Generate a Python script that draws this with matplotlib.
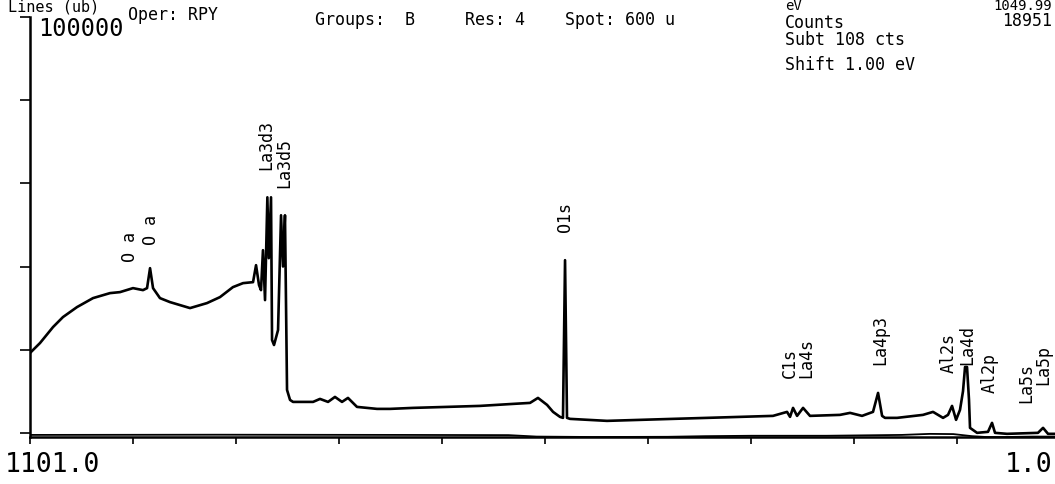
import numpy as np
import matplotlib
matplotlib.use("Agg")
import matplotlib.pyplot as plt

# XPS survey spectrum, binding energy (eV) vs counts
energia = [1101.0, 1090.3, 1076.4, 1065.8, 1050.8, 1033.7, 1015.6, 1004.9, 991.0, 980.3,
           976.0, 972.8, 969.6, 962.2, 951.5, 930.1, 912.0, 898.1, 884.3, 873.5,
           862.8, 859.6, 856.4, 854.3, 852.2, 850.0, 847.5, 846.0, 843.6, 842.5,
           840.4, 836.1, 832.9, 830.8, 828.7, 826.5, 823.3, 820.1, 798.7, 791.3,
           782.7, 775.3, 767.8, 761.4, 751.8, 730.4, 716.5, 692.0, 655.6, 620.4,
           585.2, 567.0, 558.5, 548.8, 542.4, 535.0, 531.8, 529.6, 527.5, 524.3,
           484.8, 449.5, 414.3, 378.0, 342.7, 307.5, 292.5, 289.3, 286.1, 281.8,
           275.4, 268.0, 236.0, 225.2, 212.4, 200.7, 195.3, 191.0, 187.9, 175.0,
           147.3, 136.6, 125.9, 120.6, 116.3, 112.0, 107.8, 104.6, 102.4, 100.3,
           98.2, 97.1, 89.6, 77.9, 73.6, 70.4, 57.6, 24.5, 19.1, 13.8, 1.0]
cuentas = [19200, 21600, 25440, 27840, 30240, 32400, 33600, 33840, 34800, 34320,
           34800, 39600, 34800, 32400, 31440, 30000, 31200, 32640, 35040, 36000,
           36240, 40320, 35520, 34320, 43920, 31920, 56640, 42000, 56640, 22320,
           21120, 24720, 52320, 40000, 52320, 10320, 7920, 7440, 7440, 8160,
           7440, 8640, 7440, 8400, 6240, 5760, 5760, 6000, 6240, 6480,
           6960, 7200, 8400, 6720, 5040, 3840, 3600, 41520, 3600, 3360,
           2880, 3120, 3360, 3600, 3840, 4080, 5040, 3840, 6000, 4080,
           6000, 4080, 4320, 4800, 4080, 5040, 9600, 4080, 3600, 3600,
           4320, 5040, 3600, 4320, 6480, 3120, 5520, 10000, 15840, 15840,
           8000, 1200, 0, 240, 2400, 0, -240, 0, 1200, -240, -240]

# second (background) trace hugging the axis
energia_fondo = [1101, 900, 700, 590, 560, 500, 420, 380, 330, 250, 170, 140, 115, 95, 80, 60, 30, 1]
cuentas_fondo = [-500, -450, -500, -550, -900, -1000, -950, -800, -700, -700, -500, -250,
                 -300, -800, -1000, -1000, -900, -900]

# peak labels
etiquetas = ["O a", "O a", "La3d3", "La3d5", "O1s", "C1s", "La4s", "La4p3",
             "Al2s", "La4d", "Al2p", "La5s", "La5p"]
etiq_e = [994.2, 971.8, 849.0, 829.7, 529.6, 289.0, 272.0, 193.2, 120.0, 100.5, 75.7, 37.0, 19.0]
etiq_c = [41090, 45180, 63200, 58900, 48300, 13190, 13190, 16300, 14390, 16300, 9580, 7180, 11500]

xticks = np.arange(1101, 0, -110)
yticks = [0, 20000, 40000, 60000, 80000, 100000]

W, H = 1055, 484
MONO = "DejaVu Sans Mono"


def fx(px):
    return px / W


def fy(py):
    return 1 - py / H


def main():
    fig = plt.figure(figsize=(W / 100, H / 100), dpi=100)
    ax = fig.add_axes([30 / W, 47 / H, 1030 / W, 420 / H])

    ax.plot(energia, cuentas, color="black", linewidth=1.9)
    ax.plot(energia_fondo, cuentas_fondo, color="black", linewidth=1.3)

    for t, e, c in zip(etiquetas, etiq_e, etiq_c):
        ax.text(e, c, t, rotation=90, ha="center", va="bottom",
                fontsize=12, family=MONO, color="black")

    ax.set_xlim(1101, 1)
    ax.set_ylim(-1000, 100000)
    ax.set_xticks(xticks)
    ax.set_yticks(yticks)
    ax.tick_params(axis="x", direction="out", length=5, width=1.2, labelbottom=False)
    ax.tick_params(axis="y", direction="out", length=7, width=1.2, labelleft=False)
    for s in ["top", "right"]:
        ax.spines[s].set_visible(False)
    ax.spines["left"].set_linewidth(1.8)
    ax.spines["bottom"].set_linewidth(1.8)
    ax.patch.set_alpha(0)

    # header of the printout
    fig.text(fx(8), fy(11), "Lines (ub)", fontsize=11, family=MONO, va="baseline")
    fig.text(fx(38), fy(36), "100000", fontsize=17, family=MONO, va="baseline")
    fig.text(fx(128), fy(20), "Oper: RPY", fontsize=12, family=MONO, va="baseline")
    fig.text(fx(315), fy(25), "Groups:  B", fontsize=12, family=MONO, va="baseline")
    fig.text(fx(465), fy(25), "Res: 4", fontsize=12, family=MONO, va="baseline")
    fig.text(fx(565), fy(25), "Spot: 600 u", fontsize=12, family=MONO, va="baseline")
    fig.text(fx(785), fy(10), "eV", fontsize=10, family=MONO, va="baseline")
    fig.text(fx(1052), fy(10), "1049.99", fontsize=10, family=MONO, va="baseline", ha="right")
    fig.text(fx(785), fy(28), "Counts", fontsize=12, family=MONO, va="baseline")
    fig.text(fx(1052), fy(26), "18951", fontsize=12, family=MONO, va="baseline", ha="right")
    fig.text(fx(785), fy(45), "Subt 108 cts", fontsize=12, family=MONO, va="baseline")
    fig.text(fx(785), fy(70), "Shift 1.00 eV", fontsize=12, family=MONO, va="baseline")

    # axis end labels
    fig.text(fx(5), fy(472), "1101.0", fontsize=19, family=MONO, va="baseline")
    fig.text(fx(1052), fy(472), "1.0", fontsize=19, family=MONO, va="baseline", ha="right")

    fig.savefig("out.png", dpi=100)


if __name__ == "__main__":
    main()
